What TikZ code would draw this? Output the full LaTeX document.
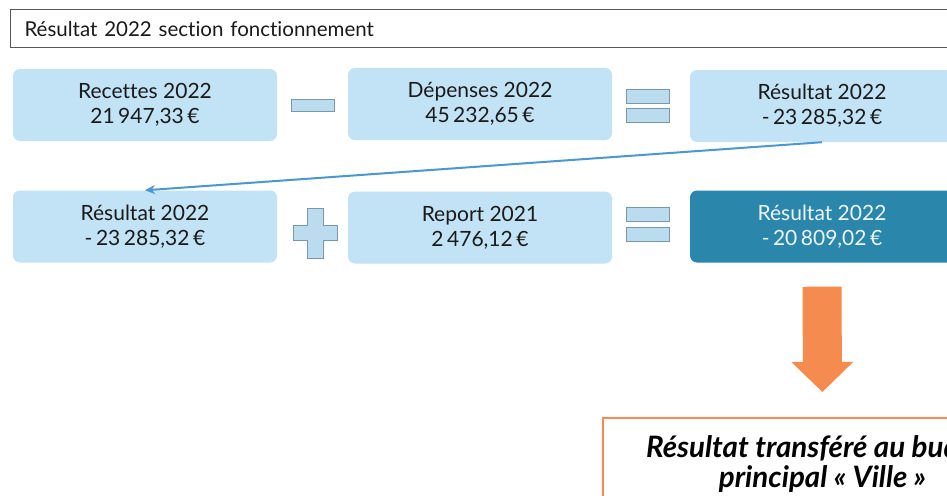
\documentclass[tikz,border=0pt]{standalone}
\usepackage{fontspec}
\setmainfont{Lato}[Ligatures=NoCommon]
\usetikzlibrary{arrows.meta}
\definecolor{lightbox}{HTML}{C2E3F5}
\definecolor{darkbox}{HTML}{2A86AB}
\definecolor{signfill}{HTML}{BBDBEE}
\definecolor{signline}{HTML}{7898B0}
\definecolor{bluearrow}{HTML}{4A97D2}
\definecolor{orangec}{HTML}{F58B4F}
\definecolor{txt}{HTML}{1A1A1A}
\tikzset{
  valbox/.style={fill=lightbox, rounded corners=7pt, minimum width=264pt, minimum height=72pt,
    align=center, text=txt, font=\fontsize{21}{25}\selectfont, inner sep=0pt},
  resbox/.style={valbox, fill=darkbox, text=white!92!darkbox},
  titlebox/.style={draw=black!65, line width=1.1pt, fill=white, anchor=north west,
    text width=930pt, minimum height=38pt, inner xsep=14pt, align=left, text=txt,
    font=\fontsize{20.5}{24}\selectfont},
  signbar/.style={fill=signfill, draw=signline, line width=0.8pt, minimum width=43pt, inner sep=0pt},
  bluelink/.style={draw=bluearrow, line width=2pt, -{Stealth[length=10pt,width=9pt]}},
  bigarrow/.style={draw=orangec, line width=39pt, -{Triangle[length=30pt,width=60pt]}},
  outbox/.style={draw=orangec, line width=2pt, fill=white, anchor=north west,
    minimum width=439pt, minimum height=92pt, align=center, text=black,
    font=\fontsize{29.5}{30.5}\selectfont\bfseries\itshape}
}
\begin{document}
\begin{tikzpicture}[x=1pt,y=-1pt]
\clip (0,0) rectangle (947,495);
\fill[white] (0,0) rectangle (947,495);
% title
\node[titlebox] (title) at (10,9) {Résultat 2022 section fonctionnement};
% row 1
\node[valbox] (r1) at (145,105) {Recettes 2022\\21\,947,33\,€};
\node[valbox] (r2) at (480,104) {Dépenses 2022\\45\,232,65\,€};
\node[valbox] (r3) at (822,106) {Résultat 2022\\-\,23\,285,32\,€};
\node[signbar, minimum height=12pt] (minus) at (313,105) {};
\node[signbar, minimum height=14pt] (eqa1) at (648,96) {};
\node[signbar, minimum height=14pt] (eqb1) at (648,115.5) {};
% row 2
\node[valbox] (s1) at (145,226.5) {Résultat 2022\\-\,23\,285,32\,€};
\node[valbox] (s2) at (480,227.5) {Report 2021\\2\,476,12\,€};
\node[resbox] (s3) at (822,226.5) {Résultat 2022\\-\,20\,809,02\,€};
\node[signbar, minimum height=14pt] (eqa2) at (648,214) {};
\node[signbar, minimum height=14pt] (eqb2) at (648,234) {};
\coordinate (plusc) at (315,233);
\filldraw[fill=signfill, draw=signline, line width=0.8pt]
  ([shift={(-8,-25)}]plusc) -- ([shift={(8,-25)}]plusc) -- ([shift={(8,-8)}]plusc)
  -- ([shift={(22,-8)}]plusc) -- ([shift={(22,7)}]plusc) -- ([shift={(8,7)}]plusc)
  -- ([shift={(8,25)}]plusc) -- ([shift={(-8,25)}]plusc) -- ([shift={(-8,7)}]plusc)
  -- ([shift={(-22,7)}]plusc) -- ([shift={(-22,-8)}]plusc) -- ([shift={(-8,-8)}]plusc) -- cycle;
% link arrow
\draw[bluelink] (r3.south) -- (s1.north);
% output
\node[outbox] (out) at (602,417) {Résultat transféré au budget\\principal « Ville »};
\draw[bigarrow, shorten <=24pt, shorten >=25pt] (s3.south) -- (out.north);
\end{tikzpicture}
\end{document}
